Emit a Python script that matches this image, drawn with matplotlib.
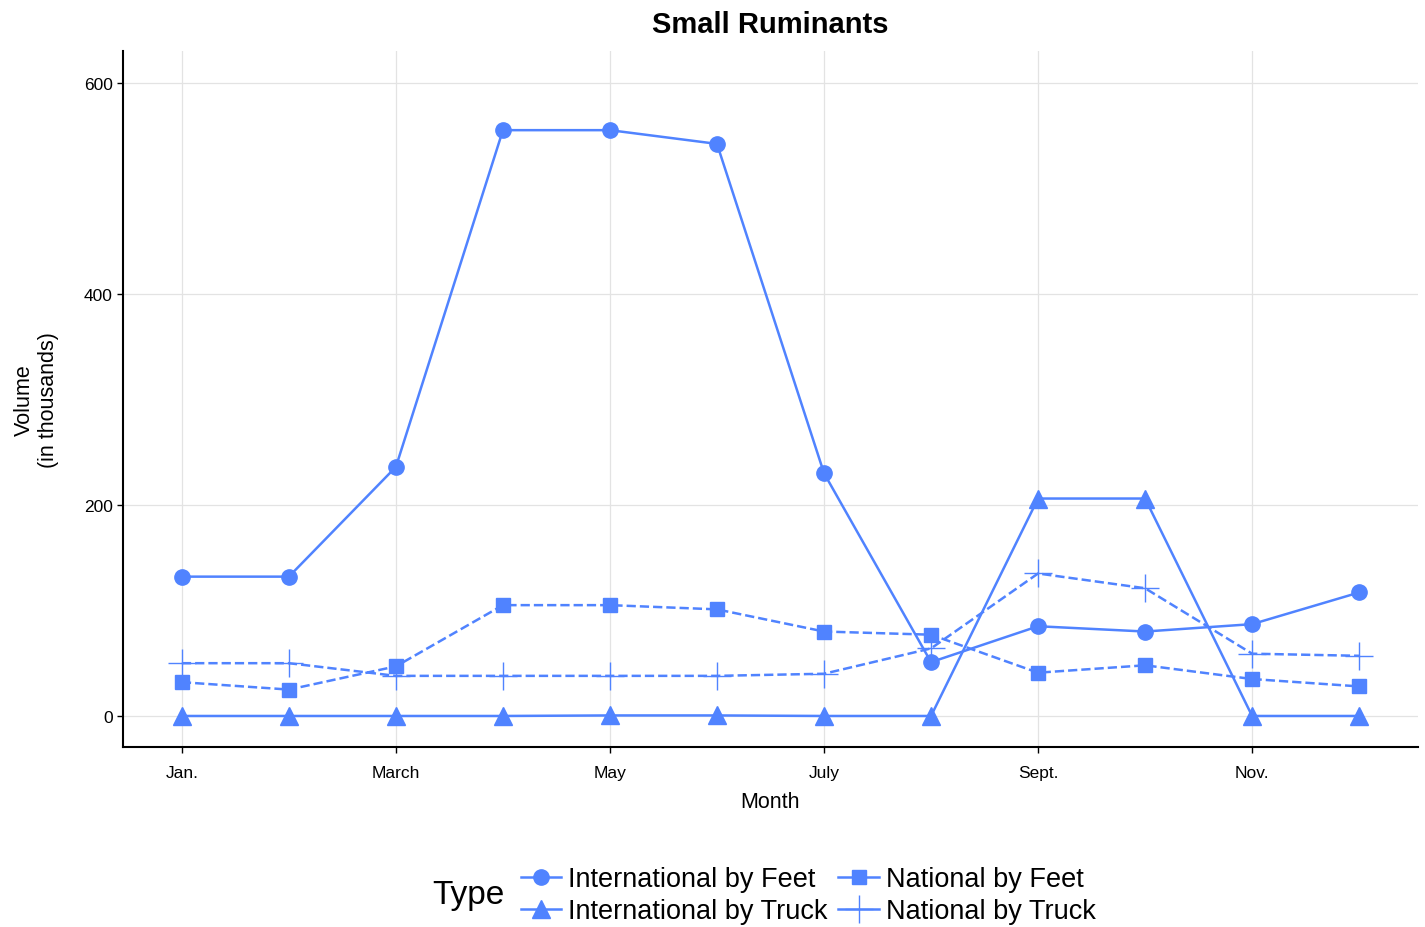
import matplotlib
matplotlib.use("Agg")
import matplotlib.pyplot as plt
from matplotlib.lines import Line2D

plt.rcParams['font.family'] = ['Liberation Sans', 'DejaVu Sans']

months = list(range(1, 13))
tick_pos = [1, 3, 5, 7, 9, 11]
tick_labels = ['Jan.', 'March', 'May', 'July', 'Sept.', 'Nov.']

intl_feet = [132, 132, 236, 555, 555, 542, 230, 51, 85, 80, 87, 117]
intl_truck = [0, 0, 0, 0, 0.5, 0.5, 0, 0, 206, 206, 0, 0]
natl_feet = [32, 25, 47, 105, 105, 101, 80, 77, 41, 48, 35, 28]
natl_truck = [50, 50, 38, 38, 38, 38, 40, 64, 135, 121, 59, 57]

names = ['International by Feet', 'International by Truck', 'National by Feet', 'National by Truck']
col = '#5083FF'

fig = plt.figure(figsize=(14.25, 9.28), dpi=100)
ax = fig.add_axes([123/1425, 1 - 748/928, (1418-123)/1425, (748-52)/928])

ax.plot(months, intl_feet, '-', color=col, lw=1.8, marker='o', ms=11)
ax.plot(months, intl_truck, '-', color=col, lw=1.8, marker='^', ms=13)
ax.plot(months, natl_feet, '--', color=col, lw=1.8, marker='s', ms=10)
ax.plot(months, natl_truck, '--', color=col, lw=1.8, marker='+', ms=20, mew=1.0)

ax.set_xlim(0.45, 12.55)
ax.set_ylim(-29.4, 630)
ax.set_xticks(tick_pos)
ax.set_xticklabels(tick_labels)
ax.set_yticks([0, 200, 400, 600])
ax.tick_params(labelsize=12.5, length=4, width=1, colors='black')
ax.tick_params(axis='x', pad=9)
ax.grid(True, color='#e3e3e3', lw=0.9)
ax.set_axisbelow(True)
for s in ['top', 'right']:
    ax.spines[s].set_visible(False)
for s in ['left', 'bottom']:
    ax.spines[s].set_linewidth(1.5)

ax.set_xlabel('Month', fontsize=15.5, labelpad=8)
ax.set_ylabel('Volume\n(in thousands)', fontsize=15.5, labelpad=18)
ax.set_title('Small Ruminants', fontsize=21, fontweight='bold', pad=14)

# legend keys drawn solid, like the reference
handles = [
    Line2D([], [], color=col, lw=1.8, marker='o', ms=11),
    Line2D([], [], color=col, lw=1.8, marker='^', ms=13),
    Line2D([], [], color=col, lw=1.8, marker='s', ms=10),
    Line2D([], [], color=col, lw=1.8, marker='+', ms=20, mew=1.0),
]
leg = fig.legend(handles=handles, labels=names, ncol=2, loc='center left',
                 bbox_to_anchor=(507/1425, 1 - 896/928), frameon=False,
                 fontsize=19.5, handlelength=1.5, handletextpad=0.25,
                 columnspacing=0.4, labelspacing=0.22, borderpad=0)
fig.text(432/1425, 1 - 896/928, 'Type', fontsize=24, va='center', ha='left')

fig.savefig('out.png', dpi=100)
